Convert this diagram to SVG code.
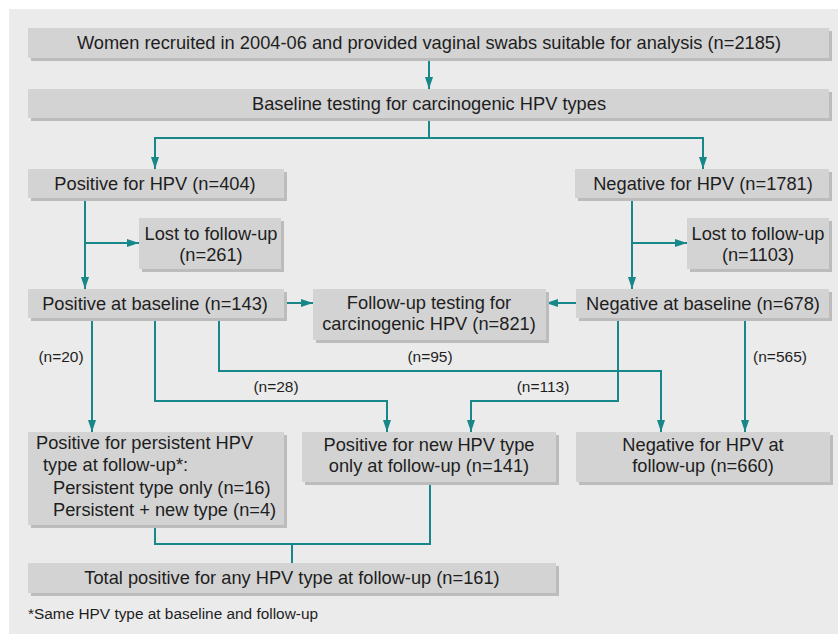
<svg xmlns="http://www.w3.org/2000/svg" width="838" height="635" viewBox="0 0 838 635">
<defs>
<marker id="ah" viewBox="0 0 12 8" refX="12" refY="4" markerWidth="12" markerHeight="8" markerUnits="userSpaceOnUse" orient="auto">
<path d="M0,0 L12,4 L0,8 z" fill="#17878a"/>
</marker>
</defs>
<style>
.sh{fill:#bcbcbc}
.bx{fill:#d3d3d3}
text{font-family:"Liberation Sans",Arial,sans-serif;font-size:18.25px;fill:#1e1e1e}
.c{text-anchor:middle}
.lb{font-size:15.5px}
.fn{font-size:15.4px}
#connectors path{fill:none;stroke:#17878a;stroke-width:2}
.arr{marker-end:url(#ah)}
</style>
<rect x="0" y="0" width="838" height="635" fill="#ffffff"/>
<rect x="9" y="9" width="829" height="625" fill="#ebebeb"/>

<g id="connectors">
<path class="arr" d="M429,58 V89"/>
<path class="arr" d="M429,119 V138 H155 V169"/>
<path class="arr" d="M429,138 H703 V169"/>
<path class="arr" d="M85,199 V289"/>
<path class="arr" d="M85,243 H139"/>
<path class="arr" d="M632,199 V289"/>
<path class="arr" d="M632,243 H687"/>
<path class="arr" d="M285,303 H313"/>
<path class="arr" d="M576,303 H546"/>
<path class="arr" d="M92,318 V432"/>
<path class="arr" d="M155,318 V401 H387 V432"/>
<path class="arr" d="M219,318 V371 H661 V432"/>
<path class="arr" d="M618,318 V401 H471 V432"/>
<path class="arr" d="M745,318 V432"/>
<path d="M430,482 V544 H155 V525"/>
<path d="M292,544 V563"/>
</g>

<g id="labels">
<text class="c lb" x="61" y="362">(n=20)</text>
<text class="c lb" x="276" y="392">(n=28)</text>
<text class="c lb" x="430" y="362">(n=95)</text>
<text class="c lb" x="543" y="392">(n=113)</text>
<text class="c lb" x="780" y="362">(n=565)</text>
</g>

<g id="n_recruited">
<rect class="sh" x="31" y="31" width="801" height="30"/>
<rect class="bx" x="28" y="28" width="801" height="30"/>
<text class="c" x="429" y="49">Women recruited in 2004-06 and provided vaginal swabs suitable for analysis (n=2185)</text>
</g>
<g id="n_baseline">
<rect class="sh" x="31" y="92" width="801" height="29"/>
<rect class="bx" x="28" y="89" width="801" height="29"/>
<text class="c" x="429" y="110">Baseline testing for carcinogenic HPV types</text>
</g>
<g id="n_poshpv">
<rect class="sh" x="31" y="172" width="256" height="29"/>
<rect class="bx" x="28" y="169" width="256" height="29"/>
<text class="c" x="155" y="190">Positive for HPV (n=404)</text>
</g>
<g id="n_neghpv">
<rect class="sh" x="578" y="172" width="254" height="29"/>
<rect class="bx" x="575" y="169" width="254" height="29"/>
<text class="c" x="703" y="190">Negative for HPV (n=1781)</text>
</g>
<g id="n_lost1">
<rect class="sh" x="142" y="221" width="142" height="51"/>
<rect class="bx" x="139" y="218" width="142" height="51"/>
<text class="c" x="211" y="240">Lost to follow-up</text>
<text class="c" x="211" y="261">(n=261)</text>
</g>
<g id="n_lost2">
<rect class="sh" x="690" y="221" width="142" height="51"/>
<rect class="bx" x="687" y="218" width="142" height="51"/>
<text class="c" x="758" y="240">Lost to follow-up</text>
<text class="c" x="758" y="261">(n=1103)</text>
</g>
<g id="n_posbase">
<rect class="sh" x="31" y="292" width="256" height="29"/>
<rect class="bx" x="28" y="289" width="256" height="29"/>
<text class="c" x="155" y="310">Positive at baseline (n=143)</text>
</g>
<g id="n_followup">
<rect class="sh" x="316" y="292" width="233" height="51"/>
<rect class="bx" x="313" y="289" width="233" height="51"/>
<text class="c" x="429" y="309">Follow-up testing for</text>
<text class="c" x="429" y="330">carcinogenic HPV (n=821)</text>
</g>
<g id="n_negbase">
<rect class="sh" x="579" y="292" width="253" height="29"/>
<rect class="bx" x="576" y="289" width="253" height="29"/>
<text class="c" x="703" y="310">Negative at baseline (n=678)</text>
</g>
<g id="n_persistent">
<rect class="sh" x="31" y="435" width="256" height="93"/>
<rect class="bx" x="28" y="432" width="256" height="93"/>
<text x="36" y="449">Positive for persistent HPV</text>
<text x="43" y="471">type at follow-up*:</text>
<text x="53" y="494">Persistent type only (n=16)</text>
<text x="53" y="516">Persistent + new type (n=4)</text>
</g>
<g id="n_newtype">
<rect class="sh" x="305" y="435" width="254" height="50"/>
<rect class="bx" x="302" y="432" width="254" height="50"/>
<text class="c" x="429" y="451">Positive for new HPV type</text>
<text class="c" x="429" y="472">only at follow-up (n=141)</text>
</g>
<g id="n_negfollow">
<rect class="sh" x="579" y="435" width="254" height="50"/>
<rect class="bx" x="576" y="432" width="254" height="50"/>
<text class="c" x="703" y="451">Negative for HPV at</text>
<text class="c" x="703" y="472">follow-up (n=660)</text>
</g>
<g id="n_total">
<rect class="sh" x="31" y="566" width="528" height="30"/>
<rect class="bx" x="28" y="563" width="528" height="30"/>
<text class="c" x="292" y="584">Total positive for any HPV type at follow-up (n=161)</text>
</g>
<text class="fn" x="28" y="619">*Same HPV type at baseline and follow-up</text>
</svg>
